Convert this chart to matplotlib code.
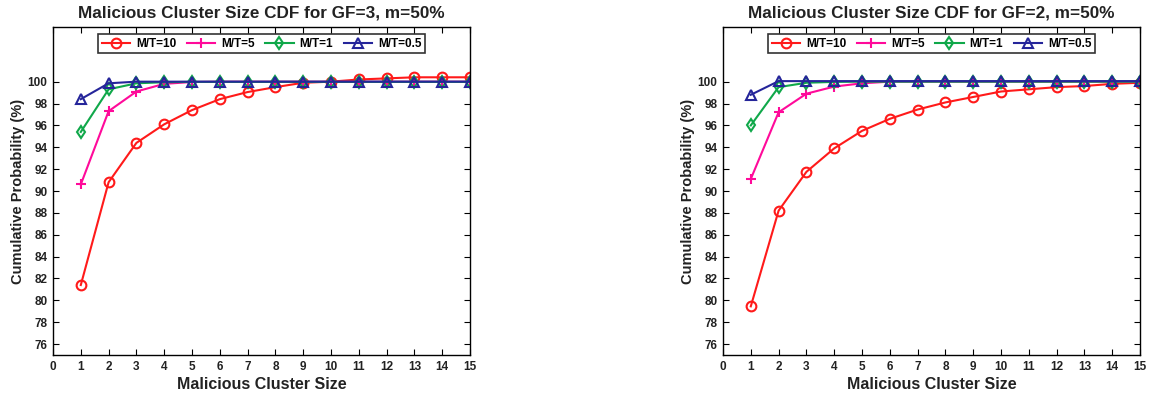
import matplotlib
matplotlib.use("Agg")
import matplotlib.pyplot as plt
import numpy as np

plt.rcParams['font.family'] = ['Liberation Sans', 'DejaVu Sans']
plt.rcParams['font.weight'] = 'bold'

cluster_size = list(range(1, 16))
labels = ["M/T=10", "M/T=5", "M/T=1", "M/T=0.5"]

gf3_mt10 = [81.4, 90.8, 94.4, 96.1, 97.4, 98.4, 99.05, 99.5, 99.9, 100.0, 100.2, 100.3, 100.4, 100.4, 100.4]
gf3_mt5 = [90.6, 97.3, 99.1, 99.8, 99.97, 100, 100, 100, 100, 100, 100, 100, 100, 100, 100]
gf3_mt1 = [95.4, 99.3, 99.85, 99.95, 99.98, 99.98, 99.98, 99.98, 99.98, 99.98, 99.98, 99.98, 99.98, 99.98, 99.98]
gf3_mt05 = [98.4, 99.85, 100, 100, 100, 100, 100, 100, 100, 100, 100, 100, 100, 100, 100]

gf2_mt10 = [79.45, 88.2, 91.75, 93.9, 95.5, 96.6, 97.45, 98.1, 98.6, 99.1, 99.3, 99.5, 99.6, 99.8, 99.9]
gf2_mt5 = [91.1, 97.2, 98.9, 99.55, 99.85, 100, 100, 100, 100, 100, 100, 100, 100, 100, 100]
gf2_mt1 = [96.0, 99.5, 99.9, 99.98, 100, 100, 100, 100, 100, 100, 100, 100, 100, 100, 100]
gf2_mt05 = [98.8, 100.05, 100.05, 100.05, 100.05, 100.05, 100.05, 100.05, 100.05, 100.05, 100.05, 100.05, 100.05, 100.05, 100.05]

titles = ["Malicious Cluster Size CDF for GF=3, m=50%", "Malicious Cluster Size CDF for GF=2, m=50%"]
panels = [[gf3_mt10, gf3_mt5, gf3_mt1, gf3_mt05], [gf2_mt10, gf2_mt5, gf2_mt1, gf2_mt05]]

colors = ["#ff1a1a", "#ff0a9a", "#10a84a", "#25259a"]
markers = ["o", "+", "d", "^"]
msizes = [7, 7, 6, 7]

W, H = 1156, 398
fig = plt.figure(figsize=(W / 100, H / 100), dpi=100)
rects = [(53, 27, 470, 355), (723, 27, 1140, 355)]

for (x0, y0, x1, y1), title, series in zip(rects, titles, panels):
    ax = fig.add_axes([x0 / W, (H - y1) / H, (x1 - x0) / W, (y1 - y0) / H])
    for vals, lab, c, m, ms in zip(series, labels, colors, markers, msizes):
        ax.plot(cluster_size, vals, color=c, marker=m, markersize=ms, markerfacecolor='none',
                markeredgecolor=c, markeredgewidth=1.5, linewidth=1.5, label=lab)
    ax.set_xlim(0, 15)
    ax.set_ylim(75, 105)
    ax.set_xticks(range(0, 16))
    ax.set_yticks(range(76, 101, 2))
    ax.tick_params(direction='in', top=True, right=True, length=4, width=0.8, labelsize=8.5, pad=4)
    for lbl in ax.get_xticklabels() + ax.get_yticklabels():
        lbl.set_fontweight('bold')
        lbl.set_color('#222222')
    for s in ax.spines.values():
        s.set_linewidth(1.0)
    ax.set_title(title, fontsize=12.3, fontweight='bold', pad=7, color='#222222')
    ax.set_xlabel("Malicious Cluster Size", fontsize=11.5, fontweight='bold', labelpad=3, color='#222222')
    ax.set_ylabel("Cumulative Probability (%)", fontsize=10.5, fontweight='bold', labelpad=2, color='#222222')
    leg = ax.legend(loc='upper center', bbox_to_anchor=(0.5, 0.985), ncol=4,
                    frameon=True, fancybox=False, edgecolor='black', handlelength=2.4,
                    handletextpad=0.5, columnspacing=0.9, borderpad=0.3, borderaxespad=0.2,
                    prop={'weight': 'bold', 'size': 8.5})
    leg.get_frame().set_linewidth(1.2)

fig.savefig("out.png", dpi=100)
